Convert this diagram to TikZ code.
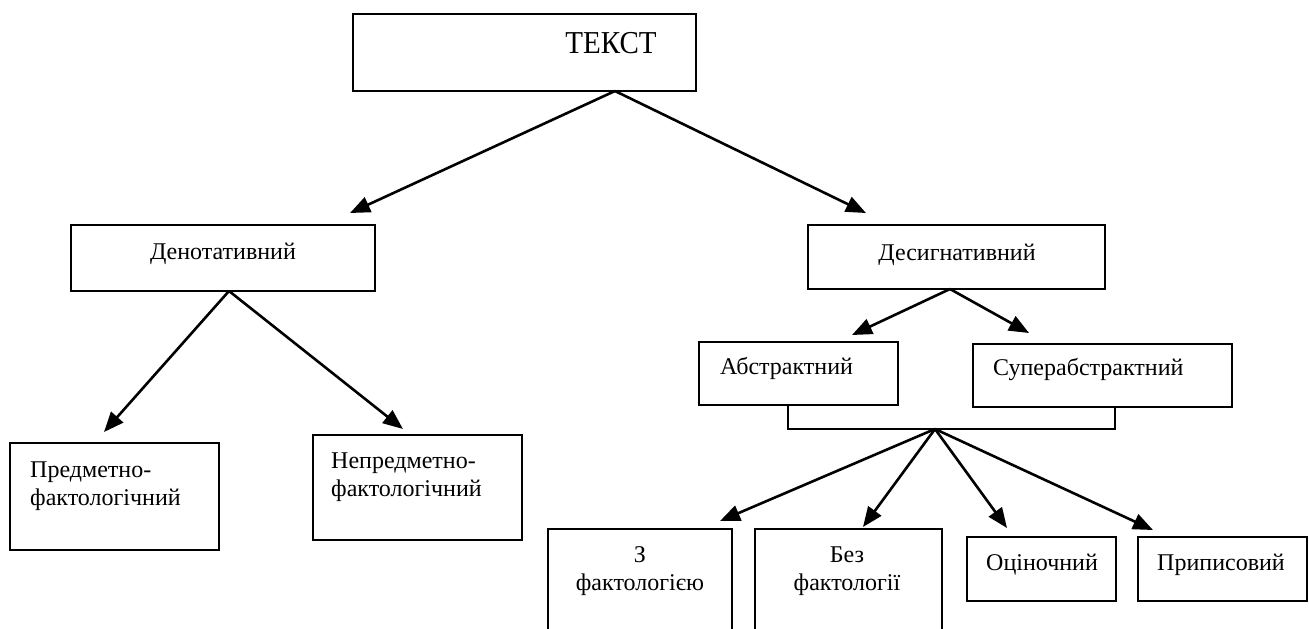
\documentclass[tikz,border=0pt]{standalone}
\usepackage{fontspec}
\setmainfont{Liberation Serif}
\usetikzlibrary{arrows.meta}
\begin{document}
\begin{tikzpicture}[x=1pt,y=-1pt,
  bx/.style={draw, line width=2pt, rectangle, inner sep=0pt},
  lbl/.style={inner sep=0pt, font=\fontsize{24}{28}\selectfont},
  arr/.style={line width=2.6pt, -{Triangle[length=20pt,width=16pt]}},
  brk/.style={line width=1.8pt}]
\clip (0,0) rectangle (1309,629);
\fill[white] (0,0) rectangle (1309,629);
% boxes
\node[bx, minimum width=343pt, minimum height=77pt] (tekst) at (524.5,52.5) {};
\node[bx, minimum width=304pt, minimum height=66pt] (den) at (223,258) {};
\node[bx, minimum width=297pt, minimum height=64pt] (des) at (956.5,257) {};
\node[bx, minimum width=209pt, minimum height=107pt] (pred) at (114.5,496.5) {};
\node[bx, minimum width=209pt, minimum height=105pt] (nepred) at (417.5,487.5) {};
\node[bx, minimum width=199pt, minimum height=63pt] (abs) at (798.5,373.5) {};
\node[bx, minimum width=259pt, minimum height=63pt] (sup) at (1102.5,375.5) {};
\node[bx, minimum width=184pt, minimum height=120pt] (zf) at (640,589) {};
\node[bx, minimum width=187pt, minimum height=120pt] (bf) at (848.5,589) {};
\node[bx, minimum width=149pt, minimum height=64pt] (oc) at (1041.5,569) {};
\node[bx, minimum width=169pt, minimum height=64pt] (pr) at (1222.5,569) {};
% texts
\node[lbl, font=\fontsize{29}{34}\selectfont, anchor=base] (tekstT) at (611,53) {\scalebox{1}[1.1]{ТЕКСТ}};
\node[lbl, anchor=base] (denT) at (223,259) {Денотативний};
\node[lbl, anchor=base] (desT) at (957,260) {Десигнативний};
\node[lbl, anchor=base west] (absT) at (720,374) {Абстрактний};
\node[lbl, anchor=base west] (supT) at (993,375) {Суперабстрактний};
\node[lbl, anchor=base west] (predT) at (30,477) {\begin{tabular}[t]{@{}l@{}}Предметно-\\фактологічний\end{tabular}};
\node[lbl, anchor=base west] (nepredT) at (331,468) {\begin{tabular}[t]{@{}l@{}}Непредметно-\\фактологічний\end{tabular}};
\node[lbl, anchor=base] (zfT) at (640,562) {\begin{tabular}[t]{@{}c@{}}З\\фактологією\end{tabular}};
\node[lbl, anchor=base] (bfT) at (847,562) {\begin{tabular}[t]{@{}c@{}}Без\\фактології\end{tabular}};
\node[lbl, anchor=base] (ocT) at (1042,570) {Оціночний};
\node[lbl, anchor=base] (prT) at (1221,570) {Приписовий};
% connector points
\coordinate (t0) at (615,91);
\coordinate (tDen) at (350,213);
\coordinate (tDes) at (866,213);
\coordinate (d0) at (229,291);
\coordinate (tPred) at (104,432);
\coordinate (tNep) at (403,429);
\coordinate (s0) at (950,289);
\coordinate (tAbs) at (852,335);
\coordinate (tSup) at (1029,333);
\coordinate (bl) at (788,429);
\coordinate (br) at (1115,429);
\coordinate (ap) at (935,429);
\coordinate (tZf) at (720,521);
\coordinate (tBf) at (863,527);
\coordinate (tOc) at (1007,528);
\coordinate (tPr) at (1153,530);
% connectors
\draw[arr] (t0) -- (tDen);
\draw[arr] (t0) -- (tDes);
\draw[arr] (d0) -- (tPred);
\draw[arr] (d0) -- (tNep);
\draw[arr] (s0) -- (tAbs);
\draw[arr] (s0) -- (tSup);
\draw[brk] (abs.south -| bl) -- (bl) -- (br) -- (sup.south -| br);
\draw[arr] (ap) -- (tZf);
\draw[arr] (ap) -- (tBf);
\draw[arr] (ap) -- (tOc);
\draw[arr] (ap) -- (tPr);
\end{tikzpicture}
\end{document}
